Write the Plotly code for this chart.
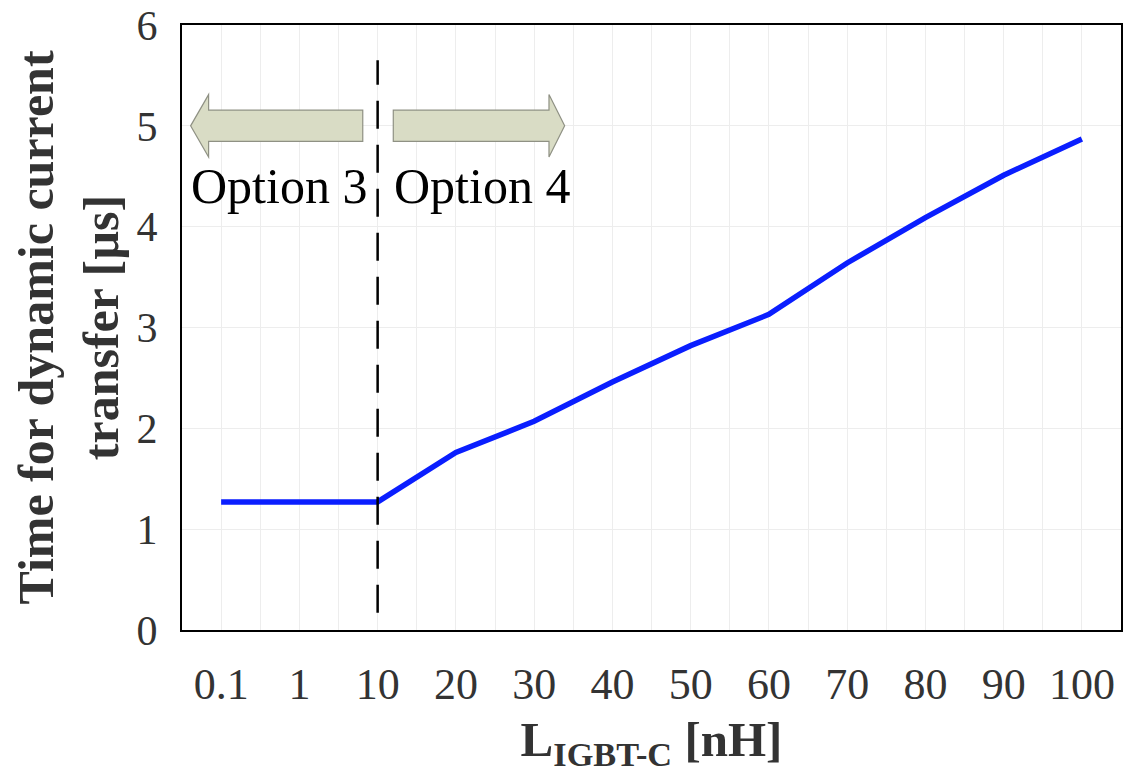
import plotly.graph_objects as go

# Inductance categories (nH) and transfer time (µs)
categories = ["0.1", "1", "10", "20", "30", "40", "50", "60", "70", "80", "90", "100"]
transfer_time = [1.27, 1.27, 1.27, 1.76, 2.07, 2.46, 2.82, 3.13, 3.64, 4.09, 4.51, 4.87]

x_idx = list(range(len(categories)))
boundary_idx = categories.index("10")

FONT = "Liberation Serif, Times New Roman, serif"

fig = go.Figure()

fig.add_trace(go.Scatter(
    x=x_idx, y=transfer_time, mode="lines",
    line=dict(color="#0a1eff", width=5.5),
    showlegend=False, hoverinfo="skip",
))

# Block arrows marking the two option regions (data units)
arrow_y = 5.0
body_half = 0.155
head_half = 0.31
left_arrow = dict(tip=-0.39, head_base=-0.16, tail=1.81)
right_arrow = dict(tail=2.20, head_base=4.19, tip=4.39)


def arrow_path(tail, head_base, tip):
    pts = [
        (tail, arrow_y - body_half),
        (head_base, arrow_y - body_half),
        (head_base, arrow_y - head_half),
        (tip, arrow_y),
        (head_base, arrow_y + head_half),
        (head_base, arrow_y + body_half),
        (tail, arrow_y + body_half),
    ]
    return "M " + " L ".join(f"{x},{y}" for x, y in pts) + " Z"


for a in (left_arrow, right_arrow):
    fig.add_shape(
        type="path", xref="x", yref="y",
        path=arrow_path(a["tail"], a["head_base"], a["tip"]),
        fillcolor="#d9dcc5", line=dict(color="#8f9184", width=1.2),
        layer="above",
    )

# Dashed boundary between option 3 and option 4
fig.add_shape(
    type="line", xref="x", yref="y",
    x0=boundary_idx, x1=boundary_idx, y0=0.17, y1=5.65,
    line=dict(color="black", width=2.5, dash="28px,16px"),
    layer="above",
)

fig.add_annotation(x=0.74, y=4.40, xref="x", yref="y", text="Option 3",
                   showarrow=False, font=dict(family=FONT, size=50, color="black"))
fig.add_annotation(x=3.33, y=4.40, xref="x", yref="y", text="Option 4",
                   showarrow=False, font=dict(family=FONT, size=50, color="black"))

fig.update_layout(
    width=1127, height=776,
    margin=dict(l=182, r=6, t=25, b=146),
    paper_bgcolor="white", plot_bgcolor="white",
    font=dict(family=FONT, color="#222222"),
)

fig.update_xaxes(
    range=[-0.5, len(categories) - 0.5],
    tickmode="array", tickvals=x_idx, ticktext=categories,
    tickfont=dict(family=FONT, size=44, color="#333333"),
    ticks="", ticklabelstandoff=14, ticklabeloverflow="allow",
    automargin=False,
    showgrid=True, gridcolor="#ededed", gridwidth=1,
    minor=dict(dtick=0.5, tick0=-0.5, showgrid=True, gridcolor="#ededed", gridwidth=1),
    showline=True, linecolor="black", linewidth=2, mirror=True,
    zeroline=False,
    title=dict(text="<b>L<sub>IGBT-C</sub> [nH]</b>",
               font=dict(family=FONT, size=49, color="#333333"), standoff=14),
)

fig.update_yaxes(
    range=[0, 6], dtick=1,
    tickfont=dict(family=FONT, size=42, color="#333333"),
    ticks="", ticklabelstandoff=14, ticklabeloverflow="allow",
    automargin=False,
    showgrid=True, gridcolor="#ededed", gridwidth=1,
    showline=True, linecolor="black", linewidth=2, mirror=True,
    zeroline=False,
    title=dict(text="<b>Time for dynamic current<br>transfer [µs]</b>",
               font=dict(family=FONT, size=50, color="#333333"), standoff=2),
)

fig.write_html("out.html")
